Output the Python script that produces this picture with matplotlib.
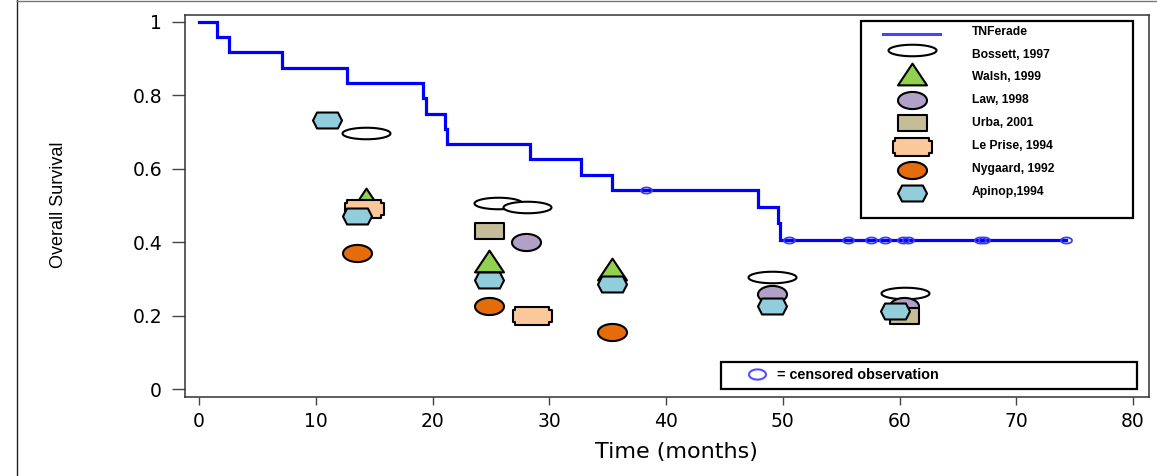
import numpy as np
import matplotlib
matplotlib.use("Agg")
import matplotlib.pyplot as plt
from matplotlib.path import Path
from matplotlib.lines import Line2D
from matplotlib.patches import Rectangle

# ---------------- data ----------------
km_times = [0, 1.5, 2.6, 7.1, 12.65, 19.2, 19.4, 21.07, 21.27, 28.35, 32.7, 35.35, 47.9, 49.6, 49.75]
km_surv = [1.0, 0.958, 0.917, 0.875, 0.833, 0.792, 0.750, 0.708, 0.667, 0.625, 0.583, 0.542, 0.497, 0.451, 0.406]
km_end = 74.3
censor_times = [38.3, 50.5, 55.6, 57.6, 58.8, 60.3, 60.75, 66.9, 67.2, 74.3]

bossett_x = [14.3, 25.6, 28.1, 49.1, 60.5]
bossett_y = [0.697, 0.508, 0.495, 0.306, 0.263]
walsh_x = [14.3, 24.8, 35.35]
walsh_y = [0.517, 0.350, 0.328]
law_x = [28.0, 49.1, 60.4]
law_y = [0.400, 0.259, 0.226]
urba_x = [24.8, 60.4]
urba_y = [0.430, 0.198]
leprise_x = [14.1, 28.5]
leprise_y = [0.490, 0.199]
nygaard_x = [13.5, 24.8, 35.35]
nygaard_y = [0.372, 0.227, 0.155]
apinop_x = [11.0, 13.5, 24.8, 35.35, 49.1, 59.6]
apinop_y = [0.733, 0.472, 0.298, 0.285, 0.226, 0.213]

legend_labels = ["TNFerade", "Bossett, 1997", "Walsh, 1999", "Law, 1998", "Urba, 2001",
                 "Le Prise, 1994", "Nygaard, 1992", "Apinop,1994"]
xticks = [0, 10, 20, 30, 40, 50, 60, 70, 80]
yticks = [0, 0.2, 0.4, 0.6, 0.8, 1.0]
ytick_labels = ["0", "0.2", "0.4", "0.6", "0.8", "1"]

# ---------------- marker shapes ----------------
def ellipse_path(ratio):
    t = np.linspace(0, 2 * np.pi, 73)
    v = np.column_stack([np.cos(t), ratio * np.sin(t)])
    return Path(v, closed=True)

def poly_path(pts):
    pts = list(pts) + [pts[0]]
    return Path(np.array(pts, dtype=float), closed=True)

h_hex = 0.55
hex_path = poly_path([(-1, 0), (-0.72, h_hex), (0.72, h_hex), (1, 0), (0.72, -h_hex), (-0.72, -h_hex)])
tri_path = poly_path([(-1, -0.75), (1, -0.75), (0, 0.75)])
rect_path = poly_path([(-1, -0.586), (1, -0.586), (1, 0.586), (-1, 0.586)])
hp = 0.436
n = 0.12
notch_path = poly_path([(-0.88, hp), (0.88, hp), (0.88, hp - n), (1, hp - n), (1, -hp + n),
                        (0.88, -hp + n), (0.88, -hp), (-0.88, -hp), (-0.88, -hp + n),
                        (-1, -hp + n), (-1, hp - n), (-0.88, hp - n)])
law_path = ellipse_path(0.59)
boss_path = ellipse_path(0.24)

px = 0.72  # points per pixel at dpi 100
styles = {
    "Bossett": dict(marker=boss_path, ms=48 * px, mfc="white"),
    "Walsh": dict(marker=tri_path, ms=29 * px, mfc="#92D050"),
    "Law": dict(marker=law_path, ms=29 * px, mfc="#B2A1C7"),
    "Urba": dict(marker=rect_path, ms=29 * px, mfc="#C4BD97"),
    "LePrise": dict(marker=notch_path, ms=39 * px, mfc="#FBC89C"),
    "Nygaard": dict(marker=law_path, ms=29 * px, mfc="#E46C0A"),
    "Apinop": dict(marker=hex_path, ms=29 * px, mfc="#92CDDC"),
}
series = [("Bossett", bossett_x, bossett_y), ("Walsh", walsh_x, walsh_y), ("Law", law_x, law_y),
          ("Urba", urba_x, urba_y), ("LePrise", leprise_x, leprise_y),
          ("Nygaard", nygaard_x, nygaard_y), ("Apinop", apinop_x, apinop_y)]

# ---------------- figure ----------------
W, H = 1157, 476
fig = plt.figure(figsize=(W / 100, H / 100), dpi=100)
L, R, T, B = 185, 1149, 15, 397
ax = fig.add_axes([L / W, (H - B) / H, (R - L) / W, (B - T) / H])

# KM curve
st_x = list(km_times) + [km_end]
st_y = list(km_surv) + [km_surv[-1]]
ax.step(st_x, st_y, where="post", color="#0000FF", lw=2.3, zorder=3, solid_joinstyle="miter")
idx = np.searchsorted(np.array(km_times), np.array(censor_times), side="right") - 1
cens_y = np.array(km_surv)[idx]
ax.plot(censor_times, cens_y, ls="none", marker=ellipse_path(0.55), ms=11 * px,
        mfc="none", mec="#3A3AFF", mew=1.3, zorder=4)

for name, xs, ys in series:
    s = styles[name]
    ax.plot(xs, ys, ls="none", marker=s["marker"], ms=s["ms"], mfc=s["mfc"],
            mec="black", mew=1.5, zorder=5)

ax.set_xlim(-1.2, 81.37)
ax.set_ylim(-0.021, 1.018)
ax.set_xticks(xticks)
ax.set_xticklabels([str(t) for t in xticks])
ax.set_yticks(yticks)
ax.set_yticklabels(ytick_labels)
ax.tick_params(axis="y", direction="out", length=9.5, width=1.0, color="#444444",
               pad=7, labelsize=13.5)
ax.tick_params(axis="x", direction="out", length=6, width=1.0, color="#444444",
               pad=5, labelsize=13.5)
for sp in ax.spines.values():
    sp.set_linewidth(1.1)
    sp.set_color("#333333")

ax.set_xlabel("Time (months)", fontsize=16)
ax.xaxis.set_label_coords((676 - L) / (R - L), (B - 452) / (B - T))
ax.set_ylabel("Overall Survival", fontsize=13, family=["Liberation Sans", "DejaVu Sans"])
ax.yaxis.set_label_coords((59 - L) / (R - L), (B - 205) / (B - T))
ax.xaxis.label.set_va("center")
ax.yaxis.label.set_va("center")

# ---------------- legend (manual) ----------------
def axx(p):
    return (p - L) / (R - L)

def axy(p):
    return (B - p) / (B - T)

ta = ax.transAxes
ax.add_patch(Rectangle((axx(860.7), axy(218.3)), axx(1132.7) - axx(860.7), axy(20.7) - axy(218.3),
                       transform=ta, fill=True, fc="white", ec="black", lw=1.6, zorder=10))
text_rows = [31.7, 55, 76.7, 100, 122.7, 145.7, 169, 191.7]
mark_rows = [34, 50, 73.8, 100, 123.3, 146.7, 170, 193.3]
mx = axx(911.7)
ax.add_line(Line2D([axx(883), axx(940)], [axy(mark_rows[0])] * 2, transform=ta,
                   color="#4444FF", lw=2.2, zorder=11))
for i, (name, _, _) in enumerate(series):
    s = styles[name]
    ax.add_line(Line2D([mx], [axy(mark_rows[i + 1])], transform=ta, ls="none",
                       marker=s["marker"], ms=s["ms"], mfc=s["mfc"], mec="black",
                       mew=1.5, zorder=11))
for lab, ry in zip(legend_labels, text_rows):
    ax.text(axx(971.7), axy(ry), lab, transform=ta, fontsize=8.7, fontweight="bold",
            family=["Liberation Sans", "DejaVu Sans"], va="center", ha="left", zorder=12)

# censored legend box
ax.add_patch(Rectangle((axx(720.7), axy(389)), axx(1136.7) - axx(720.7), axy(361.7) - axy(389),
                       transform=ta, fill=True, fc="white", ec="black", lw=1.6, zorder=10))
ax.add_line(Line2D([axx(756.7)], [axy(374)], transform=ta, ls="none", marker=ellipse_path(0.6),
                   ms=17 * px, mfc="none", mec="#5050FF", mew=1.5, zorder=11))
ax.text(axx(776.7), axy(375), "= censored observation", transform=ta, fontsize=10.4,
        fontweight="bold", family=["Liberation Sans", "DejaVu Sans"], va="center", ha="left",
        zorder=12)

# figure border (left and top)
fig.add_artist(Line2D([16.5 / W, 16.5 / W], [0, 1], transform=fig.transFigure, color="#222222", lw=1.0))
fig.add_artist(Line2D([16.5 / W, 1], [1 - 1.0 / H] * 2, transform=fig.transFigure, color="#777777", lw=1.0))

fig.savefig("out.png", dpi=100)
